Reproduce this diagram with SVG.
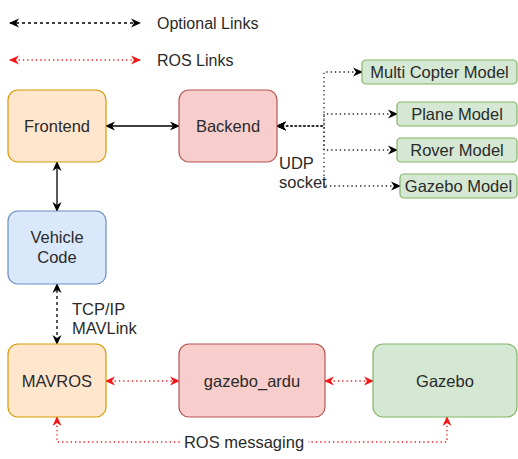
<svg xmlns="http://www.w3.org/2000/svg" width="518" height="459" viewBox="0 0 518 459">
<defs>
<marker id="ab" markerUnits="userSpaceOnUse" markerWidth="10" markerHeight="10" viewBox="0 0 10 10" refX="9" refY="5" orient="auto-start-reverse"><path d="M0,0.5 L10,5 L0,9.5 L3,5 Z" fill="#000"/></marker>
<marker id="ar" markerUnits="userSpaceOnUse" markerWidth="10" markerHeight="10" viewBox="0 0 10 10" refX="9" refY="5" orient="auto-start-reverse"><path d="M0,0.5 L10,5 L0,9.5 L3,5 Z" fill="#f21818"/></marker>
<style>
text{font-family:"Liberation Sans",Arial,sans-serif;font-size:16.5px;fill:#2a2a2a}
.c{text-anchor:middle}
.sm{font-size:16px}
.or{fill:#ffe6cc;stroke:#d79b00;stroke-width:1.2}
.rd{fill:#f8cecc;stroke:#b85450;stroke-width:1.2}
.bl{fill:#dae8fc;stroke:#6c8ebf;stroke-width:1.2}
.gr{fill:#d5e8d4;stroke:#82b366;stroke-width:1.2}
.solid{fill:none;stroke:#000;stroke-width:1.3;marker-start:url(#ab);marker-end:url(#ab)}
.dash{fill:none;stroke:#000;stroke-width:1.3;stroke-dasharray:3 3;marker-start:url(#ab);marker-end:url(#ab)}
.dot{fill:none;stroke:#222;stroke-width:1.3;stroke-dasharray:1.3 3;marker-start:url(#ab);marker-end:url(#ab)}
.red{fill:none;stroke:#f21818;stroke-width:1.3;stroke-dasharray:1.3 3;marker-start:url(#ar);marker-end:url(#ar)}
</style>
</defs>
<g id="legend">
<path class="dash" d="M10,23 H140"/>
<text x="157" y="29" class="sm">Optional Links</text>
<path class="red" d="M10,60 H140"/>
<text x="157" y="66" class="sm">ROS Links</text>
</g>
<g id="connectors">
<path class="solid" d="M106,126 H179"/>
<path class="solid" d="M57,162 V211"/>
<path class="dash" d="M57,284 V344"/>
<path class="dot" d="M362,72 H324 V126 H277"/>
<path class="dot" d="M397,114 H324 V126 H277"/>
<path class="dot" d="M397,150 H324 V126 H277"/>
<path class="dot" d="M400,186 H324 V126 H277"/>
<path class="red" d="M106,381 H179"/>
<path class="red" d="M325,381 H373"/>
<path class="red" d="M57,417 V442 H447 V417"/>
<rect x="180" y="432" width="128" height="18" fill="#fff"/>
<text x="244" y="448" class="c">ROS messaging</text>
<text x="279" y="169">UDP</text>
<text x="279" y="188">socket</text>
<text x="72" y="315">TCP/IP</text>
<text x="72" y="334">MAVLink</text>
</g>
<g id="frontend"><rect x="8" y="90" width="98" height="72" rx="10" class="or"/><text x="57" y="132" class="c">Frontend</text></g>
<g id="backend"><rect x="179" y="90" width="98" height="72" rx="10" class="rd"/><text x="228" y="132" class="c">Backend</text></g>
<g id="vehicle"><rect x="8" y="211" width="98" height="73" rx="10" class="bl"/><text x="57" y="243" class="c">Vehicle</text><text x="57" y="263" class="c">Code</text></g>
<g id="mavros"><rect x="8" y="344" width="98" height="73" rx="10" class="or"/><text x="57" y="387" class="c">MAVROS</text></g>
<g id="gazebo_ardu"><rect x="179" y="344" width="146" height="73" rx="10" class="rd"/><text x="252" y="387" class="c">gazebo_ardu</text></g>
<g id="gazebo"><rect x="373" y="344" width="144" height="73" rx="10" class="gr"/><text x="445" y="387" class="c">Gazebo</text></g>
<g id="multicopter"><rect x="362" y="60" width="155" height="24" rx="4" class="gr"/><text x="439.5" y="78" class="c">Multi Copter Model</text></g>
<g id="plane"><rect x="397" y="102" width="120" height="24" rx="4" class="gr"/><text x="457" y="120" class="c">Plane Model</text></g>
<g id="rover"><rect x="397" y="138" width="120" height="24" rx="4" class="gr"/><text x="457" y="156" class="c">Rover Model</text></g>
<g id="gazebomodel"><rect x="400" y="174" width="117" height="24" rx="4" class="gr"/><text x="458.5" y="192" class="c">Gazebo Model</text></g>
</svg>
